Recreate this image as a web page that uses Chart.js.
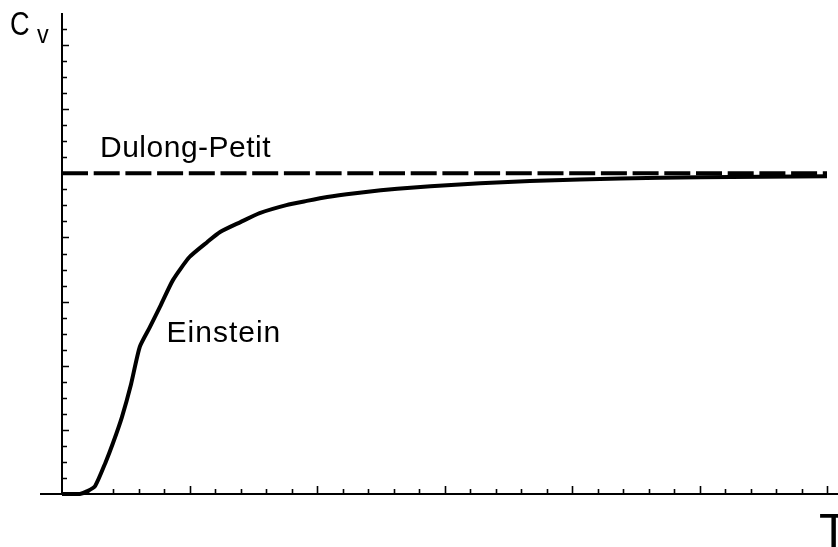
<!DOCTYPE html>
<html>
<head>
<meta charset="utf-8">
<script src="https://cdn.jsdelivr.net/npm/chart.js@4/dist/chart.umd.min.js"></script>
<style>
  html, body { margin: 0; padding: 0; background: #fff; }
  #wrap { width: 838px; height: 547px; }
</style>
</head>
<body>
<div id="wrap"><canvas id="chart" width="838" height="547"></canvas></div>
<script>
// Einstein curve (T in units, Cv relative to Dulong-Petit)
const tValues = [0, 0.07, 0.10, 0.13, 0.17, 0.20, 0.235, 0.27, 0.305, 0.345, 0.385, 0.435,
  0.50, 0.57, 0.62, 0.70, 0.775, 0.88, 0.96, 1.04, 1.15, 1.25, 1.38, 1.51, 1.64, 1.77,
  1.90, 2.03, 2.19, 2.50, 3.0];
const cvValues = [0, 0, 0.009, 0.025, 0.097, 0.159, 0.24, 0.34, 0.459, 0.521, 0.585, 0.667,
  0.739, 0.786, 0.817, 0.848, 0.876, 0.901, 0.914, 0.926, 0.938, 0.947, 0.956, 0.963, 0.969, 0.974,
  0.978, 0.981, 0.984, 0.988, 0.991];
const dulongPetit = 1;
const tRange = [0, 3];
const cvRange = [0, 1.5];

// tick positions (no labels on this plot)
const xMinorStep = 0.1, xMajorStep = 0.5;
const yMinorStep = 0.05, yMajorStep = 0.2;

const font = '"Liberation Sans", Arial, Helvetica, sans-serif';

const einsteinPoints = tValues.map((t, i) => ({ x: t, y: cvValues[i] }));
const dulongPoints = tRange.map(t => ({ x: t, y: dulongPetit }));

const axesPlugin = {
  id: 'axesPlugin',
  beforeDatasetsDraw(chart) {
    const ctx = chart.ctx;
    const xs = chart.scales.x, ys = chart.scales.y;
    const x0 = xs.getPixelForValue(0);
    const y0 = ys.getPixelForValue(0);
    ctx.save();
    ctx.strokeStyle = '#000';
    ctx.lineWidth = 2;
    ctx.beginPath();
    ctx.moveTo(x0 - 22, y0);
    ctx.lineTo(chart.width, y0);
    ctx.moveTo(x0, y0);
    ctx.lineTo(x0, ys.getPixelForValue(cvRange[1]));
    ctx.stroke();

    ctx.lineWidth = 1.6;
    ctx.beginPath();
    for (let i = 1; i * xMinorStep <= tRange[1] + 1e-9; i++) {
      const v = i * xMinorStep;
      const major = Math.abs(v / xMajorStep - Math.round(v / xMajorStep)) < 1e-6;
      const px = Math.round(xs.getPixelForValue(v)) + 0.5;
      ctx.moveTo(px, y0);
      ctx.lineTo(px, y0 - (major ? 8 : 5));
    }
    for (let i = 1; i * yMinorStep < cvRange[1] - 1e-9; i++) {
      const v = i * yMinorStep;
      const major = Math.abs(v / yMajorStep - Math.round(v / yMajorStep)) < 1e-6;
      const py = Math.round(ys.getPixelForValue(v)) + 0.5;
      ctx.moveTo(x0, py);
      ctx.lineTo(x0 + (major ? 7 : 5), py);
    }
    ctx.stroke();
    ctx.restore();
  },
  afterDraw(chart) {
    const ctx = chart.ctx;
    const xs = chart.scales.x, ys = chart.scales.y;
    ctx.save();
    ctx.fillStyle = '#000';
    ctx.textBaseline = 'alphabetic';
    ctx.font = '30px ' + font;
    ctx.letterSpacing = '0.5px';
    ctx.fillText('Dulong-Petit', xs.getPixelForValue(0.149), ys.getPixelForValue(1.05));
    ctx.letterSpacing = '1px';
    ctx.fillText('Einstein', xs.getPixelForValue(0.41), ys.getPixelForValue(0.474));
    ctx.letterSpacing = '0px';

    // C_v label, narrow glyphs as in the original
    ctx.save();
    ctx.translate(10, 35);
    ctx.scale(0.8, 1);
    ctx.font = '34px ' + font;
    ctx.fillText('C', 0, 0);
    ctx.restore();
    ctx.save();
    ctx.translate(37, 43);
    ctx.scale(0.9, 1);
    ctx.font = '26px ' + font;
    ctx.fillText('v', 0, 0);
    ctx.restore();

    ctx.font = '48px ' + font;
    ctx.fillText('T', 819, 547);
    ctx.restore();
  }
};

new Chart(document.getElementById('chart'), {
  type: 'line',
  data: {
    datasets: [
      {
        label: 'Einstein',
        data: einsteinPoints,
        borderColor: '#000',
        borderWidth: 4,
        pointRadius: 0,
        tension: 0.2,
        fill: false,
        clip: false
      },
      {
        label: 'Dulong-Petit',
        data: dulongPoints,
        borderColor: '#000',
        borderWidth: 4,
        borderDash: [26, 5.7],
        borderCapStyle: 'butt',
        pointRadius: 0,
        fill: false,
        clip: false
      }
    ]
  },
  options: {
    responsive: false,
    devicePixelRatio: 1,
    animation: false,
    layout: { padding: { left: 62, right: 11, top: 13, bottom: 53 } },
    plugins: {
      legend: { display: false },
      tooltip: { enabled: false }
    },
    scales: {
      x: { type: 'linear', min: tRange[0], max: tRange[1], display: false },
      y: { type: 'linear', min: cvRange[0], max: cvRange[1], display: false }
    }
  },
  plugins: [axesPlugin]
});
</script>
</body>
</html>
